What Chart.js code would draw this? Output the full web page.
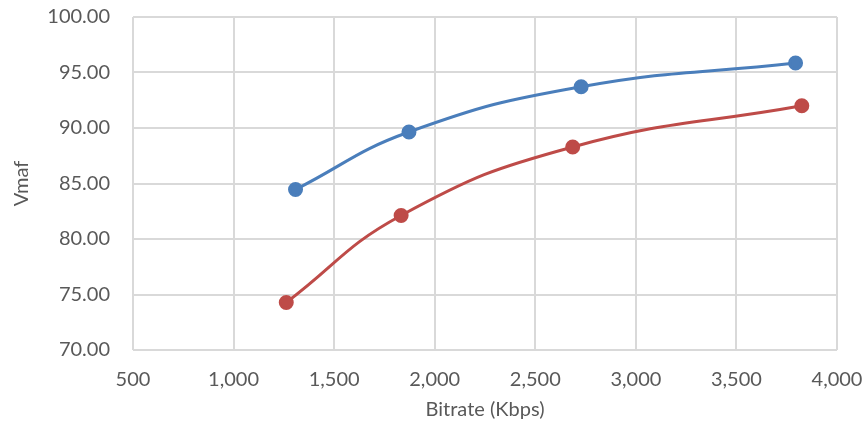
<!DOCTYPE html>
<html>
<head>
<meta charset="utf-8">
<script src="https://cdn.jsdelivr.net/npm/chart.js@4/dist/chart.umd.min.js"></script>
<style>
  html, body { margin: 0; padding: 0; background: #ffffff; }
  #wrap { width: 867px; height: 424px; }
</style>
</head>
<body>
<div id="wrap"><canvas id="c" width="867" height="424"></canvas></div>
<script>
// Bitrate (Kbps) and VMAF score for each encoding ladder
const blueBitrate = [1308, 1872, 2728, 3794];
const blueVmaf    = [84.46, 89.64, 93.71, 95.86];
const redBitrate  = [1262, 1833, 2686, 3825];
const redVmaf     = [74.28, 82.12, 88.29, 92.0];

const xTicks = [500, 1000, 1500, 2000, 2500, 3000, 3500, 4000];
const yTicks = [70, 75, 80, 85, 90, 95, 100];

const toPoints = (xs, ys) => xs.map((x, i) => ({ x: x, y: ys[i] }));

const FONT = "Lato, 'Open Sans', 'Liberation Sans', sans-serif";
const TEXT = '#595959';
const GRID = '#d9d9d9';

new Chart(document.getElementById('c'), {
  type: 'scatter',
  data: {
    datasets: [
      {
        data: toPoints(blueBitrate, blueVmaf),
        showLine: true,
        borderColor: '#4a7ebb',
        backgroundColor: '#4a7ebb',
        borderWidth: 3,
        pointRadius: 6,
        tension: 0.45
      },
      {
        data: toPoints(redBitrate, redVmaf),
        showLine: true,
        borderColor: '#be4b48',
        backgroundColor: '#be4b48',
        borderWidth: 3,
        pointRadius: 6,
        tension: 0.45
      }
    ]
  },
  options: {
    responsive: false,
    animation: false,
    layout: { padding: { left: 0, right: 30, top: 17, bottom: 0 } },
    plugins: { legend: { display: false }, tooltip: { enabled: false } },
    scales: {
      x: {
        type: 'linear',
        min: xTicks[0],
        max: xTicks[xTicks.length - 1],
        afterBuildTicks: s => { s.ticks = xTicks.map(v => ({ value: v })); },
        afterFit: s => { s.height = 74; },
        // invisible tick marks keep the labels clear of the plot
        grid: { color: GRID, lineWidth: 2, drawTicks: true, tickLength: 15, tickColor: 'rgba(0,0,0,0)' },
        border: { display: false },
        ticks: {
          padding: 3,
          color: TEXT,
          font: { family: FONT, size: 20 },
          maxRotation: 0,
          callback: v => v.toLocaleString('en-US')
        },
        title: {
          display: true,
          text: 'Bitrate (Kbps)',
          color: TEXT,
          font: { family: FONT, size: 20 },
          padding: { top: 4, bottom: 2 }
        }
      },
      y: {
        min: yTicks[0],
        max: yTicks[yTicks.length - 1],
        afterBuildTicks: s => { s.ticks = yTicks.map(v => ({ value: v })); },
        afterFit: s => { s.width = 133; },
        grid: { color: GRID, lineWidth: 2, drawTicks: true, tickLength: 18, tickColor: 'rgba(0,0,0,0)' },
        border: { display: false },
        ticks: {
          padding: 5,
          color: TEXT,
          font: { family: FONT, size: 20 },
          callback: v => v.toFixed(2)
        },
        title: {
          display: true,
          text: 'Vmaf',
          color: TEXT,
          font: { family: FONT, size: 20 },
          padding: { top: 10, bottom: 0 }
        }
      }
    }
  }
});
</script>
</body>
</html>
